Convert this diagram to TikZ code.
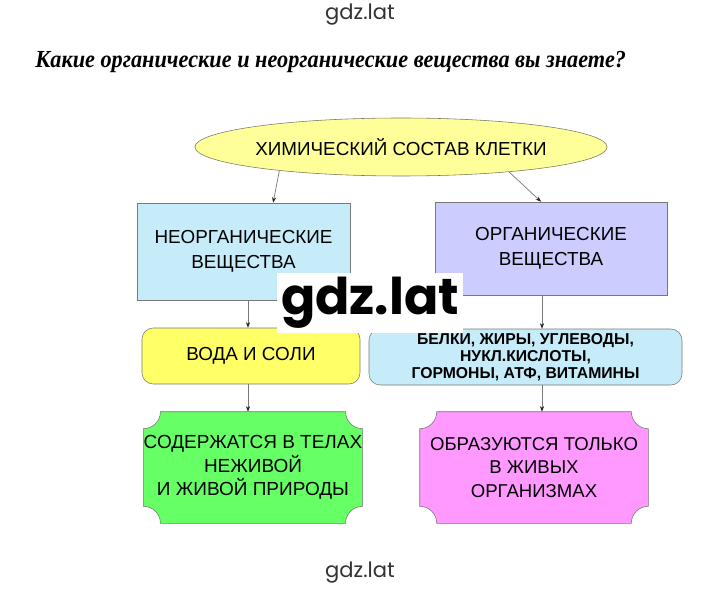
\documentclass[tikz,border=0pt]{standalone}
\usepackage{fontspec}
\setmainfont{Liberation Sans}
\newfontfamily\questfont[FakeStretch=0.91]{Liberation Serif}
\newfontfamily\wmfont{Poppins}
\definecolor{ellyellow}{RGB}{255, 255, 153}
\definecolor{inorgblue}{RGB}{198, 236, 250}
\definecolor{orglilac}{RGB}{204, 204, 255}
\definecolor{saltyellow}{RGB}{255, 255, 102}
\definecolor{livegreen}{RGB}{102, 255, 102}
\definecolor{onlypink}{RGB}{255, 153, 255}
\definecolor{edgegray}{RGB}{120, 120, 120}
\usetikzlibrary{shapes.geometric, arrows.meta, backgrounds}

% box with concave corners, drawn behind node #1
\newcommand{\plaque}[2]{%
  \begin{scope}[on background layer]
    \path[fill=#2, draw=edgegray, thin]
      ([yshift=-0.425cm]#1.north west) arc[start angle=270, end angle=360, radius=0.425cm]
      -- ([xshift=-0.425cm]#1.north east) arc[start angle=180, end angle=270, radius=0.425cm]
      -- ([yshift=0.425cm]#1.south east) arc[start angle=90, end angle=180, radius=0.425cm]
      -- ([xshift=0.425cm]#1.south west) arc[start angle=0, end angle=90, radius=0.425cm]
      -- cycle;
  \end{scope}}

\begin{document}
\begin{tikzpicture}[x=0.025cm, y=-0.025cm,
    box/.style={draw=edgegray, thin, align=center, inner sep=0pt, font=\fontsize{13.4}{17.7}\selectfont},
    arr/.style={draw=edgegray, line width=0.5pt, -{Stealth[length=4pt, width=3pt, color=black!85]}}]
  \useasboundingbox (0, 0) rectangle (720, 589);

  % watermarks and question
  \node[font=\wmfont\fontsize{15}{18}\selectfont, text=black!80] (wmtop) at (360, 15) {gdz.lat};
  \node[font=\wmfont\fontsize{15}{18}\selectfont, text=black!80] (wmbot) at (360, 573) {gdz.lat};
  \node[anchor=base west, inner sep=0pt, font=\questfont\bfseries\itshape\fontsize{17.4}{20}\selectfont] (quest) at (35, 68) {Какие органические и неорганические вещества вы знаете?};

  % top ellipse
  \node[box, ellipse, fill=ellyellow, draw=edgegray!80!olive, minimum width=346*0.025cm, minimum height=58*0.025cm] (chem) at (401, 147) {ХИМИЧЕСКИЙ СОСТАВ КЛЕТКИ};

  % two groups
  \node[box, fill=inorgblue, minimum width=213*0.025cm, minimum height=97*0.025cm] (inorg) at (243.5, 251.5) {НЕОРГАНИЧЕСКИЕ\\ВЕЩЕСТВА};
  \node[box, fill=orglilac, minimum width=232*0.025cm, minimum height=93*0.025cm] (org) at (551, 248.5) {ОРГАНИЧЕСКИЕ\\ВЕЩЕСТВА};

  \node[box, rounded corners=8pt, fill=saltyellow, minimum width=218*0.025cm, minimum height=56*0.025cm] (salts) at (251, 356) {ВОДА И СОЛИ};
  \node[box, rounded corners=8pt, fill=inorgblue, minimum width=313*0.025cm, minimum height=56*0.025cm, font=\bfseries\fontsize{11.2}{12.2}\selectfont] (biomol) at (525.5, 357) {БЕЛКИ, ЖИРЫ, УГЛЕВОДЫ,\\НУКЛ.КИСЛОТЫ,\\ГОРМОНЫ, АТФ, ВИТАМИНЫ};

  \node[box, draw=none, minimum width=216*0.025cm, minimum height=111*0.025cm, font=\fontsize{13.5}{16.7}\selectfont] (bodies) at (253, 467.5) {СОДЕРЖАТСЯ В ТЕЛАХ\\НЕЖИВОЙ\\И ЖИВОЙ ПРИРОДЫ};
  \node[box, draw=none, minimum width=228*0.025cm, minimum height=111*0.025cm, font=\fontsize{13.2}{16.7}\selectfont] (living) at (534, 467.5) {ОБРАЗУЮТСЯ ТОЛЬКО\\В ЖИВЫХ\\ОРГАНИЗМАХ};
  \plaque{bodies}{livegreen}
  \plaque{living}{onlypink}

  % connectors
  \coordinate (lx) at (248, 0);
  \coordinate (rx) at (542, 0);
  \draw[arr] (chem.191) -- ([xshift=0.74cm]inorg.north);
  \draw[arr] (chem.347) -- ([xshift=-0.25cm]org.north);
  \draw[arr] (inorg.south -| lx) -- (salts.north -| lx);
  \draw[arr] (org.south -| rx) -- (biomol.north -| rx);
  \draw[arr] (salts.south -| lx) -- (bodies.north -| lx);
  \draw[arr] (biomol.south -| rx) -- (living.north -| rx);

  % big watermark
  \node[fill=white, inner sep=3pt, font=\wmfont\bfseries\fontsize{36}{40}\selectfont] (wmmid) at (370, 303) {gdz.lat};
\end{tikzpicture}
\end{document}
